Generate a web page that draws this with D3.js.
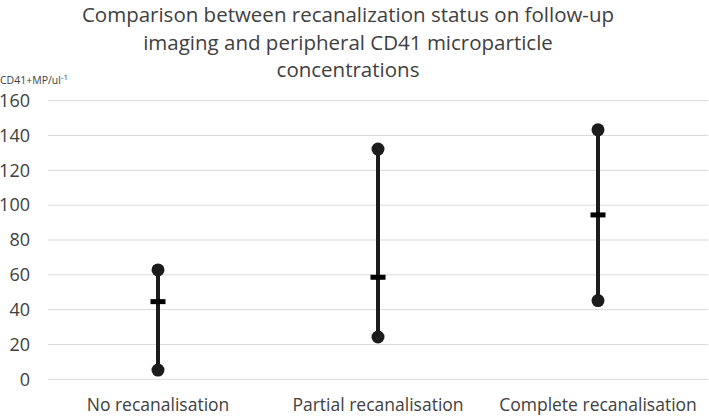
<!DOCTYPE html>
<html lang="en">
<head>
    <meta charset="UTF-8">
    <title>CD41 microparticles by recanalisation status</title>
    <script src="https://d3js.org/d3.v7.min.js"></script>
    <style>
        body { margin: 0; background: #fff; }
        text { font-family: "Open Sans", sans-serif; fill: #404040; }
    </style>
</head>
<body>
    <div id="chart"></div>
    <script>
        // data
        const categories = ["No recanalisation", "Partial recanalisation", "Complete recanalisation"];
        const highs = [62.8, 132.2, 143.3];
        const means = [44.6, 58.6, 94.4];
        const lows = [5.3, 24.3, 45.2];
        const yTicks = [0, 20, 40, 60, 80, 100, 120, 140, 160];
        const titleLines = [
            "Comparison between recanalization status on follow-up",
            "imaging and peripheral CD41 microparticle",
            "concentrations"
        ];

        const width = 709, height = 416;
        const margin = {top: 100.7, right: 1, bottom: 36.7, left: 48};

        const svg = d3.select("#chart")
          .append("svg")
            .attr("width", width)
            .attr("height", height);

        const x = d3.scaleBand()
          .domain(categories)
          .range([margin.left, width - margin.right]);

        const y = d3.scaleLinear()
          .domain([0, 160])
          .range([height - margin.bottom, margin.top]);

        // gridlines
        svg.append("g")
          .selectAll("line")
          .data(yTicks)
          .join("line")
            .attr("x1", margin.left)
            .attr("x2", width - margin.right)
            .attr("y1", d => y(d))
            .attr("y2", d => y(d))
            .attr("stroke", "#d9d9d9")
            .attr("stroke-width", 1);

        // y axis labels
        const yAxis = svg.append("g")
          .attr("transform", `translate(${margin.left - 18},0)`)
          .call(d3.axisLeft(y).tickValues(yTicks).tickSize(0).tickPadding(0));
        yAxis.select(".domain").remove();
        yAxis.selectAll("text")
          .style("font-size", "18px")
          .style("font-family", "'Open Sans', sans-serif")
          .attr("fill", "#404040");

        // x axis labels
        const xAxis = svg.append("g")
          .attr("transform", `translate(0,${height - margin.bottom})`)
          .call(d3.axisBottom(x).tickSize(0).tickPadding(19));
        xAxis.select(".domain").remove();
        xAxis.selectAll("text")
          .style("font-size", "17.5px")
          .style("font-family", "'Open Sans', sans-serif")
          .attr("fill", "#404040");

        // unit label
        const unit = svg.append("text")
          .attr("x", 0)
          .attr("y", 84)
          .style("font-size", "10.5px");
        unit.append("tspan").text("CD41+MP/ul");
        unit.append("tspan").attr("dy", -4).style("font-size", "8px").text("-1");

        // title
        svg.append("g")
          .selectAll("text")
          .data(titleLines)
          .join("text")
            .attr("x", 348)
            .attr("y", (d, i) => 22 + i * 27.5)
            .attr("text-anchor", "middle")
            .style("font-size", "20.5px")
            .text(d => d);

        const rows = categories.map((c, i) => ({cat: c, hi: highs[i], mean: means[i], lo: lows[i]}));
        const cx = d => x(d.cat) + x.bandwidth() / 2;
        const ink = "#1c1c1c";

        // whiskers
        svg.append("g")
          .selectAll("line")
          .data(rows)
          .join("line")
            .attr("x1", cx).attr("x2", cx)
            .attr("y1", d => y(d.hi))
            .attr("y2", d => y(d.lo))
            .attr("stroke", ink)
            .attr("stroke-width", 4);

        // end dots
        svg.append("g")
          .selectAll("circle")
          .data(rows.flatMap(d => [{cat: d.cat, v: d.hi}, {cat: d.cat, v: d.lo}]))
          .join("circle")
            .attr("cx", cx)
            .attr("cy", d => y(d.v))
            .attr("r", 6.5)
            .attr("fill", ink);

        // mean markers
        svg.append("g")
          .selectAll("rect")
          .data(rows)
          .join("rect")
            .attr("x", d => cx(d) - 7.5)
            .attr("y", d => y(d.mean) - 2.5)
            .attr("width", 15)
            .attr("height", 5)
            .attr("fill", "#000");
    </script>
</body>
</html>
